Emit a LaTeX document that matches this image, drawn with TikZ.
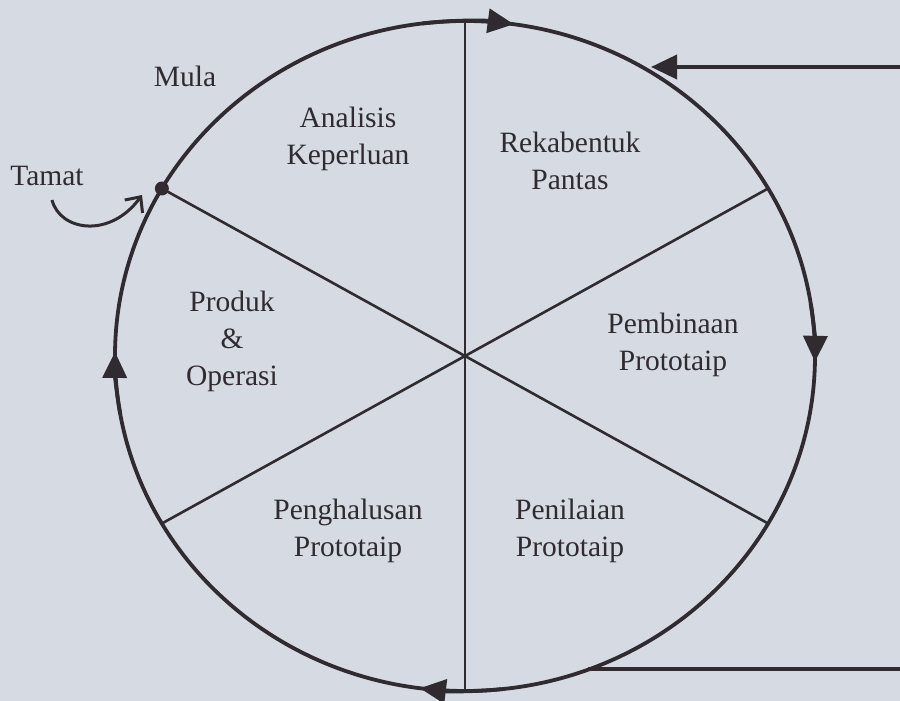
\documentclass[tikz,border=0pt]{standalone}
\usepackage{fontspec}
\setmainfont{Liberation Serif}
\usetikzlibrary{arrows.meta}
\definecolor{bg}{RGB}{214,218,226}
\definecolor{ink}{RGB}{48,43,48}
\begin{document}
\begin{tikzpicture}[x=1pt,y=1pt,
  lbl/.style={font=\fontsize{29.5}{37}\selectfont, text=ink, align=center, inner sep=0pt},
  rim/.style={draw=ink, line width=3.8pt},
  spoke/.style={draw=ink, line width=2.6pt},
  vspoke/.style={draw=ink, line width=2.1pt},
  tipc/.style={-{Triangle[length=26pt,width=24pt]}},
]
\fill[bg] (0,0) rectangle (900,701);
\useasboundingbox (0,0) rectangle (900,701);
\coordinate (C) at (465,345);
\foreach \a in {30,90,150,210,270,330}{\path (C) ++(\a:350 and 335) coordinate (s\a);}
% spokes
\draw[vspoke] (s90) -- (s270);
\draw[spoke] (s30) -- (s210);
\draw[spoke] (s150) -- (s330);
% rim
\draw[rim] (C) ellipse[x radius=350, y radius=335];
% direction arrows on the rim
\draw[rim,tipc] (C) ++(97:350 and 335) arc[start angle=97, end angle=82, x radius=350, y radius=335];
\draw[rim,tipc] (C) ++(9:350 and 335) arc[start angle=9, end angle=-1, x radius=350, y radius=335];
\draw[rim,tipc] (C) ++(-84:350 and 335) arc[start angle=-84, end angle=-97.4, x radius=350, y radius=335];
\draw[rim,tipc] (C) ++(190:350 and 335) arc[start angle=190, end angle=179.3, x radius=350, y radius=335];
% external lines
\coordinate (inA) at (900,634);
\coordinate (inAend) at (651,634);
\draw[rim,tipc] (inA) -- (inAend);
\coordinate (outB) at (588,32);
\coordinate (outBend) at (900,32);
\draw[rim] (outB) -- (outBend);
% start/end dot
\fill[ink] (s150) circle[radius=7];
% labels
\node[lbl] (mula) at (185,625) {Mula};
\node[lbl] (tamat) at (47,525) {Tamat};
\coordinate (ta) at (52,501);
\coordinate (tb) at (142,506);
\draw[ink, line width=3pt, -{Straight Barb[length=12pt,width=22pt]}] (ta) .. controls (60,470) and (110,462) .. (tb);
\node[lbl] (ak) at (348,562) {Analisis\\Keperluan};
\node[lbl] (rp) at (570,540) {Rekabentuk\\Pantas};
\node[lbl] (po) at (232,360) {Produk\\\&\\Operasi};
\node[lbl] (pp) at (673,356) {Pembinaan\\Prototaip};
\node[lbl] (ph) at (348,170) {Penghalusan\\Prototaip};
\node[lbl] (pn) at (570,170) {Penilaian\\Prototaip};
\end{tikzpicture}
\end{document}
